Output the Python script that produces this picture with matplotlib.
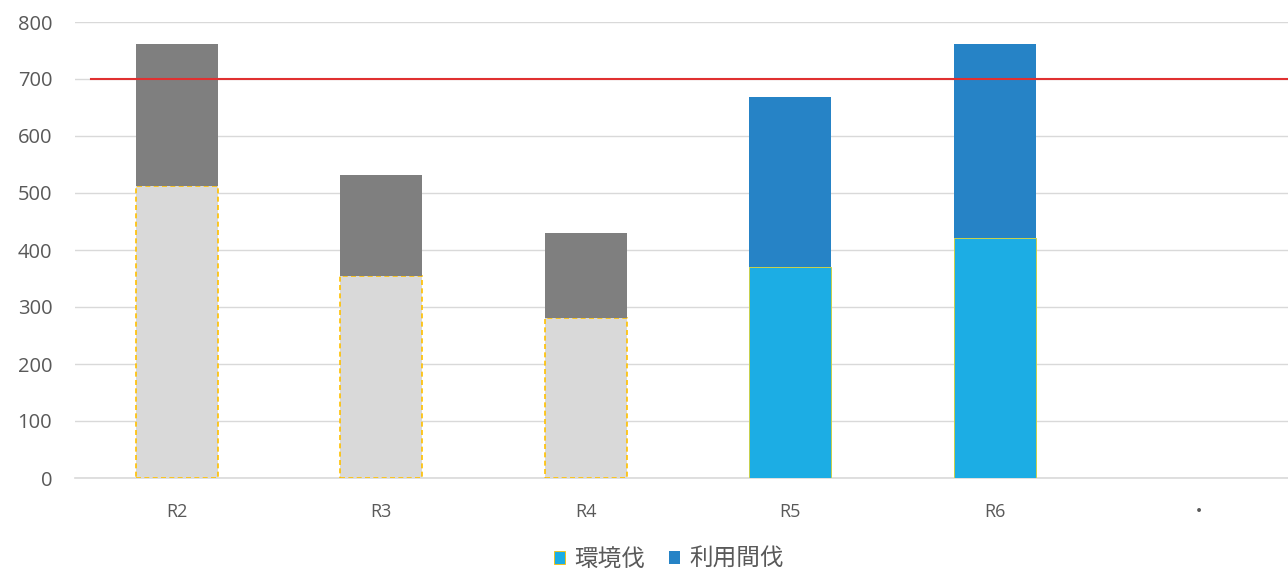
import matplotlib
matplotlib.use("Agg")
import matplotlib.pyplot as plt
from matplotlib.patches import Patch

# ── Data ──────────────────────────────────────────────────────────────────────
CATEGORIES  = ["R2", "R3", "R4", "R5", "R6", "・"]
ENV_CUT     = [512, 354, 281, 370, 421]      # 環境伐 (lower segment)
THIN_CUT    = [249, 177, 149, 298, 340]      # 利用間伐 (upper segment)
ACTUAL      = [True, True, True, False, False]  # False -> blue (current) bars
TARGET      = 700
Y_TICKS     = [0, 100, 200, 300, 400, 500, 600, 700, 800]
LEGEND      = ["環境伐", "利用間伐"]

# ── Style ─────────────────────────────────────────────────────────────────────
C_LOW_GRAY  = "#d9d9d9"
C_UP_GRAY   = "#7f7f7f"
C_LOW_BLUE  = "#1cade4"
C_UP_BLUE   = "#2683c6"
C_EDGE      = "#ffc000"
C_GRID      = "#d9d9d9"
C_TEXT      = "#595959"
C_TARGET    = "#e03030"
BAR_W       = 0.40
SLOT_PX     = 204.5

plt.rcParams["font.family"] = ["Open Sans", "Noto Sans CJK JP", "DejaVu Sans"]

fig = plt.figure(figsize=(12.88, 5.72), dpi=100)
ax = fig.add_axes([74.5 / 1288, 94 / 572, 1213.5 / 1288, 456 / 572])

x = list(range(len(CATEGORIES)))
for i, (low, up, old) in enumerate(zip(ENV_CUT, THIN_CUT, ACTUAL)):
    if old:
        ax.bar(i, low, BAR_W, color=C_LOW_GRAY, edgecolor=C_EDGE,
               linewidth=1.2, linestyle=(0, (3, 2)), zorder=3)
        ax.bar(i, up, BAR_W, bottom=low, color=C_UP_GRAY, linewidth=0, zorder=3)
    else:
        ax.bar(i, low, BAR_W, color=C_LOW_BLUE, edgecolor="#c8d04a",
               linewidth=0.7, zorder=3)
        ax.bar(i, up, BAR_W, bottom=low, color=C_UP_BLUE, linewidth=0, zorder=3)

ax.plot([-0.42, 5.6], [TARGET, TARGET], color=C_TARGET, linewidth=1.5, zorder=4)

ax.set_xlim(-0.5, -0.5 + 1213.5 / SLOT_PX)
ax.set_ylim(0, 800)
ax.set_yticks(Y_TICKS)
ax.set_xticks(x)
ax.set_xticklabels(CATEGORIES)
ax.tick_params(axis="y", length=0, pad=16, labelsize=14.5, labelcolor=C_TEXT)
ax.tick_params(axis="x", length=0, pad=18, labelsize=13, labelcolor=C_TEXT)
ax.grid(True, axis="y", color=C_GRID, linewidth=1.0, zorder=0)
ax.set_axisbelow(True)
for s in ["top", "right", "left"]:
    ax.spines[s].set_visible(False)
ax.spines["bottom"].set_color(C_GRID)
ax.spines["bottom"].set_linewidth(1.2)

handles = [Patch(facecolor=C_LOW_BLUE, edgecolor=C_EDGE, linewidth=0.6),
           Patch(facecolor=C_UP_BLUE)]
fig.legend(handles, LEGEND, loc="center", bbox_to_anchor=(669 / 1288, 1 - 560 / 572),
           ncol=2, frameon=False, fontsize=17, handlelength=0.45, handleheight=0.45,
           handletextpad=0.4, columnspacing=1.0, labelcolor=C_TEXT)

fig.savefig("out.png", dpi=100)
